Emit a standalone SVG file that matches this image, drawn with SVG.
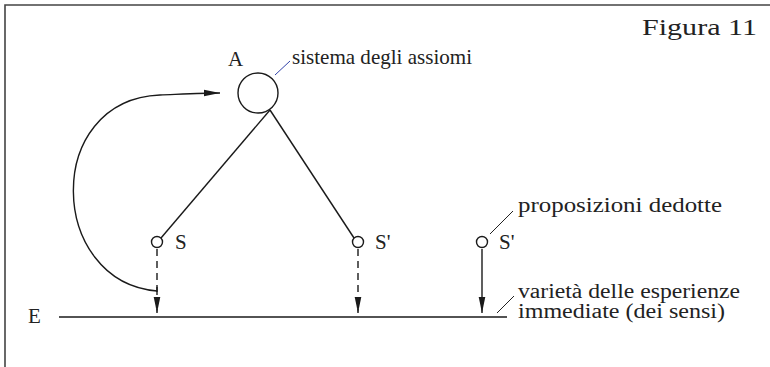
<svg xmlns="http://www.w3.org/2000/svg" width="770" height="367" viewBox="0 0 770 367">
<defs>
<style>
.t{font-family:'Liberation Serif','Times New Roman',Times,serif;fill:#222;font-size:21px}
.ln{stroke:#1a1a1a;stroke-width:1.4;fill:none}
.ds{stroke:#1a1a1a;stroke-width:1.4;fill:none;stroke-dasharray:7,5}
.lead{stroke:#222;stroke-width:1;fill:none}
</style>
<marker id="ahv" viewBox="0 0 16 10" refX="16" refY="5" markerWidth="16" markerHeight="10" markerUnits="userSpaceOnUse" orient="auto">
<path d="M0,1.7 L16,5 L0,8.3 Z" fill="#1a1a1a"/>
</marker>
</defs>
<rect width="770" height="367" fill="#fff"/>
<path d="M5,367 V5 H770" stroke="#444" stroke-width="1.6" fill="none"/>
<g font-family="'Liberation Serif', 'Times New Roman', Times, serif" fill="#222" font-size="21">
<text class="t" x="642" y="35" style="font-size:23px" textLength="115" lengthAdjust="spacingAndGlyphs">Figura 11</text>
<g id="nodeA">
<circle cx="258" cy="93" r="20" class="ln"/>
<text class="t" x="228" y="66">A</text>
<path d="M275,75 L290,61" stroke="#3344aa" stroke-width="1" fill="none"/>
<text class="t" x="292" y="64" textLength="180" lengthAdjust="spacingAndGlyphs">sistema degli assiomi</text>
</g>
<g id="nodeS">
<circle cx="157" cy="242" r="5.5" class="ln"/>
<text class="t" x="175" y="249">S</text>
</g>
<g id="nodeS1">
<circle cx="358" cy="242" r="5.5" class="ln"/>
<text class="t" x="375" y="249">S'</text>
</g>
<g id="nodeS2">
<circle cx="482" cy="242" r="5.5" class="ln"/>
<text class="t" x="499" y="249">S'</text>
<path d="M490,234 L513,211" class="lead"/>
<text class="t" x="518" y="212" textLength="204" lengthAdjust="spacingAndGlyphs">proposizioni dedotte</text>
</g>
<g id="nodeE">
<text class="t" x="28" y="323">E</text>
<path d="M59,317 H507" class="ln"/>
<path d="M497,313 L514,296" class="lead"/>
<text class="t" x="518" y="298" style="font-size:20px" textLength="222" lengthAdjust="spacingAndGlyphs">varietà delle esperienze</text>
<text class="t" x="518" y="318" style="font-size:20px" textLength="207" lengthAdjust="spacingAndGlyphs">immediate (dei sensi)</text>
</g>
</g>
<g id="connectors">
<path d="M270,110 L161,238" class="ln"/>
<path d="M270,110 L354,238" class="ln"/>
<path d="M157,249 V313" class="ds" marker-end="url(#ahv)"/>
<path d="M358,249 V313" class="ds" marker-end="url(#ahv)"/>
<path d="M482,249 V313" class="ln" marker-end="url(#ahv)"/>
<path d="M157,291 C48,282 42,100 160,95 C185,94 205,93 220,93" class="ln" marker-end="url(#ahv)"/>
<path d="M157,287 V295" class="ln"/>
</g>
</svg>
